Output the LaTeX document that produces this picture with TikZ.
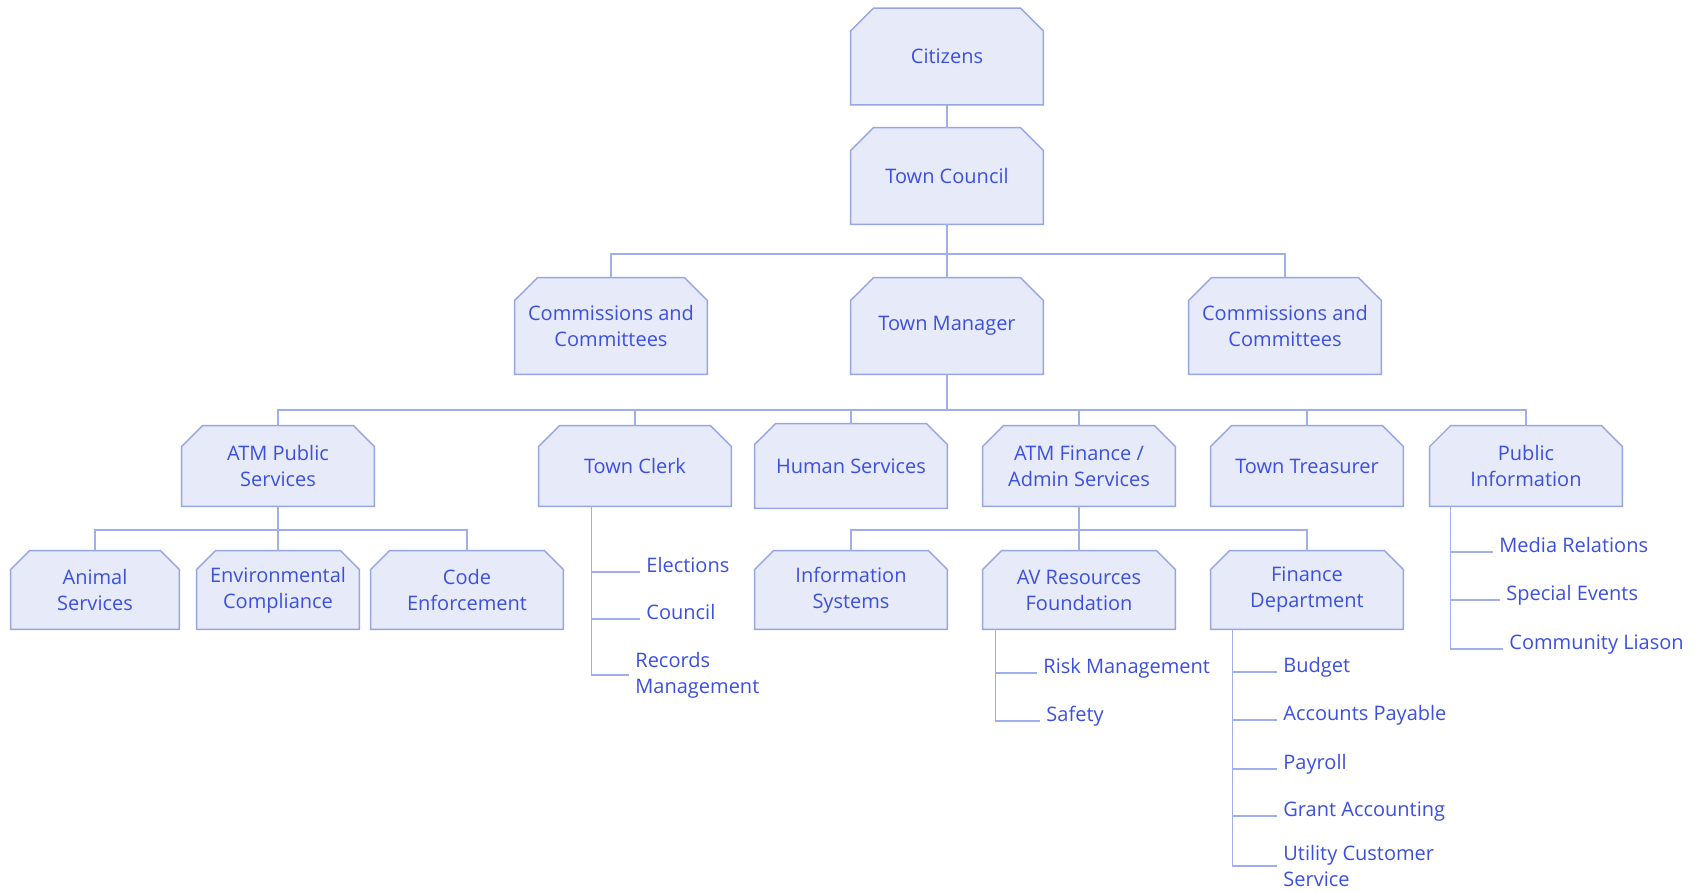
\documentclass[tikz,border=0pt]{standalone}
\usepackage{fontspec}
\setmainfont{Open Sans}
\usetikzlibrary{backgrounds}

\definecolor{boxfill}{RGB}{231,234,248}
\definecolor{boxedge}{RGB}{150,165,230}
\definecolor{ink}{RGB}{60,80,224}
\definecolor{wirecol}{RGB}{160,175,236}

\tikzset{
  unit/.style={align=center, text=ink, font=\fontsize{10pt}{13pt}\selectfont, inner sep=0pt},
  big/.style={unit, minimum width=96pt, minimum height=48pt},
  mid/.style={unit, minimum width=96pt, minimum height=40pt},
  small/.style={unit, minimum height=39pt},
  item/.style={text=ink, font=\fontsize{10pt}{13pt}\selectfont, inner sep=3pt, align=left},
  wire/.style={draw=wirecol, line width=0.6pt},
  chamfer/.style={draw=boxedge, fill=boxfill, line width=0.7pt},
}

% outline of a box with its two upper corners cut off
\newcommand\chamferbox[2]{%
  \draw[chamfer] (#1.south west) -- ([yshift=-#2]#1.north west)
    -- ([xshift=#2]#1.north west) -- ([xshift=-#2]#1.north east)
    -- ([yshift=-#2]#1.north east) -- (#1.south east) -- cycle;}

\begin{document}
\begin{tikzpicture}[x=0.5pt,y=-0.5pt]
\useasboundingbox (0,0) rectangle (1695,891);

% top levels
\node[big] (cit) at (947,56.5) {Citizens};
\node[big] (tc)  at (947,176) {Town Council};
\node[big] (cl)  at (611,326) {Commissions and\\Committees};
\node[big] (tm)  at (947,326) {Town Manager};
\node[big] (cr)  at (1285,326) {Commissions and\\Committees};

% departments
\node[mid] (aps)   at (278,466) {ATM Public\\Services};
\node[mid] (clerk) at (635,466) {Town Clerk};
\node[mid, minimum height=42pt] (hs) at (851,466) {Human Services};
\node[mid] (atmf)  at (1079,466) {ATM Finance /\\Admin Services};
\node[mid] (tt)    at (1307,466) {Town Treasurer};
\node[mid] (pi)    at (1526,466) {Public\\Information};

% divisions
\node[small, minimum width=84pt] (an)   at (95,590) {Animal\\Services};
\node[small, minimum width=81pt] (env)  at (278,590) {Environmental\\Compliance};
\node[small, minimum width=96pt] (code) at (467,590) {Code\\Enforcement};
\node[small, minimum width=96pt] (is)   at (851,590) {Information\\Systems};
\node[small, minimum width=96pt] (avr)  at (1079,590) {AV Resources\\Foundation};
\node[small, minimum width=96pt] (fin)  at (1307,590) {Finance\\Department};

% box outlines behind the texts
\begin{scope}[on background layer]
  \fill[white] (0,0) rectangle (1695,891);
  \foreach \n in {cit,tc,cl,tm,cr}{\chamferbox{\n}{11.5pt}}
  \foreach \n in {aps,clerk,hs,atmf,tt,pi}{\chamferbox{\n}{10.5pt}}
  \foreach \n in {an,env,code,is,avr,fin}{\chamferbox{\n}{9.5pt}}
\end{scope}

% bus lines
\coordinate (b1) at (947,254);
\coordinate (b2) at (947,410);
\coordinate (b3) at (278,530);
\coordinate (b4) at (1079,530);

\draw[wire] (cit.south) -- (tc.north);
\draw[wire] (tc.south) -- (tm.north);
\draw[wire] (cl.north) |- (b1) -| (cr.north);

\draw[wire] (tm.south) -- (b2);
\draw[wire] (aps.north) |- (b2) -| (pi.north);
\foreach \n in {clerk,hs,atmf,tt}{\draw[wire] (\n.north) -- (\n.north |- b2);}

\draw[wire] (aps.south) -- (env.north);
\draw[wire] (an.north) |- (b3) -| (code.north);

\draw[wire] (atmf.south) -- (avr.north);
\draw[wire] (is.north) |- (b4) -| (fin.north);

% Town Clerk list
\node[item, anchor=base west] (el) at (640,572) {Elections};
\node[item, anchor=base west] (co) at (640,619) {Council};
\node[item, anchor=west] (rm) at (629,675) {Records\\Management};
\draw[wire] ([xshift=26.5pt]clerk.south west) |- (el.base west);
\draw[wire] ([xshift=26.5pt]clerk.south west) |- (co.base west);
\draw[wire] ([xshift=26.5pt]clerk.south west) |- (rm.west);

% AV Resources list
\node[item, anchor=base west] (risk) at (1037,673) {Risk Management};
\node[item, anchor=base west] (saf)  at (1040,721) {Safety};
\draw[wire] ([xshift=6.5pt]avr.south west) |- (risk.base west);
\draw[wire] ([xshift=6.5pt]avr.south west) |- (saf.base west);

% Finance list
\node[item, anchor=base west] (bud) at (1277,672) {Budget};
\node[item, anchor=base west] (ap)  at (1277,720) {Accounts Payable};
\node[item, anchor=base west] (pay) at (1277,769) {Payroll};
\node[item, anchor=base west] (ga)  at (1277,816) {Grant Accounting};
\node[item, anchor=west] (ucs) at (1277,866) {Utility Customer\\Service};
\foreach \n in {bud,ap,pay,ga}{\draw[wire] ([xshift=11pt]fin.south west) |- (\n.base west);}
\draw[wire] ([xshift=11pt]fin.south west) |- (ucs.west);

% Public Information list
\node[item, anchor=base west] (mr) at (1493,552) {Media Relations};
\node[item, anchor=base west] (se) at (1500,600) {Special Events};
\node[item, anchor=base west] (cla) at (1503,649) {Community Liason};
\foreach \n in {mr,se,cla}{\draw[wire] ([xshift=10.5pt]pi.south west) |- (\n.base west);}
\end{tikzpicture}
\end{document}
